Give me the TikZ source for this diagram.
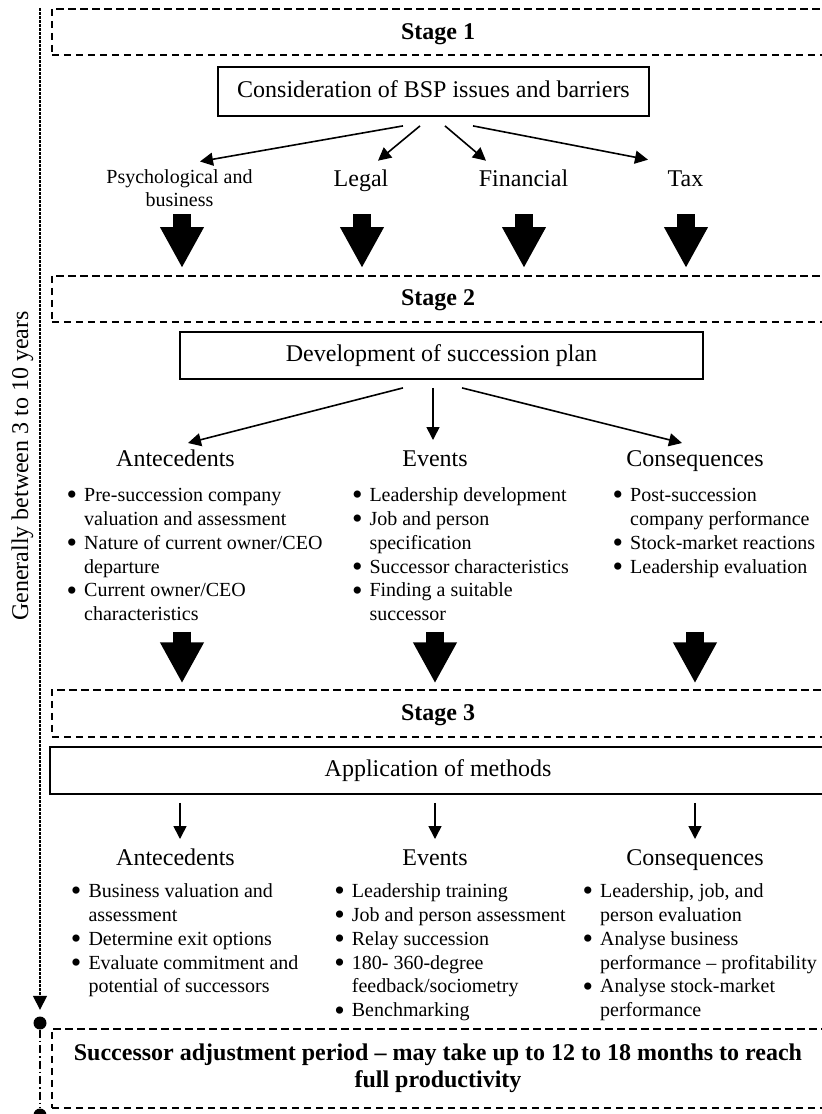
\documentclass[tikz,border=0pt]{standalone}
\usepackage{fontspec}
\usepackage{graphicx}
\setmainfont{Liberation Serif}
\usetikzlibrary{arrows.meta,calc}
\newcommand\bul{\leavevmode\llap{\raisebox{-3.2pt}{\scalebox{1.5}{\textbullet}}\hspace{7pt}}}
\begin{document}
\begin{tikzpicture}[x=1pt,y=-1pt,
  solidbox/.style={draw, line width=1.8pt, inner sep=0pt, font=\fontsize{24}{28}\selectfont, text height=16pt, text depth=5pt},
  stagebox/.style={draw, line width=1.5pt, dash pattern=on 7.5pt off 4.5pt, inner sep=0pt},
  stagelabel/.style={font=\fontsize{24}{27}\selectfont\bfseries, inner sep=0pt, anchor=base},
  heading/.style={font=\fontsize{24}{28}\selectfont, inner sep=0pt, anchor=base},
  listnode/.style={font=\fontsize{20}{23.8}\selectfont, inner sep=0pt, anchor=base west},
  arr/.style={line width=1.6pt, -{Triangle[length=13pt,width=13pt]}},
  blockarrow/.style={line width=18pt, -{Triangle[length=41pt,width=41pt]}},
  timeline/.style={line width=1.6pt, dash pattern=on 2.5pt off 1.5pt},
  tdot/.style={circle, fill, inner sep=0pt, minimum size=13pt},
]
\clip (0,0) rectangle (822,1114);

% ---------- Stage 1
\node[stagebox, anchor=north west, minimum width=775pt, minimum height=46pt] (s1) at (51,8) {};
\node[stagelabel] (s1t) at (438,39.5) {Stage 1};
\node[solidbox, minimum width=431pt, minimum height=49pt] (c1) at (433.5,91.5) {Consideration of BSP issues and barriers};

\node[font=\fontsize{20}{23.2}\selectfont, inner sep=0pt, anchor=base] (psych) at (179.5,183.5)
  {\parbox[t]{160pt}{\centering Psychological and\\business}};
\node[heading] (legal) at (361,186.7) {Legal};
\node[heading] (fin) at (523.5,186.7) {Financial};
\node[heading] (tax) at (685.5,186.7) {Tax};

\draw[arr] ([xshift=-30.5pt,yshift=-9pt]c1.south) -- ($(psych.base)+(20.5,-22)$);
\draw[arr] ([xshift=-13.5pt,yshift=-9pt]c1.south) -- ($(legal.base)+(17,-26)$);
\draw[arr] ([xshift=11.5pt,yshift=-9pt]c1.south) -- ($(fin.base)+(-37.5,-26)$);
\draw[arr] ([xshift=39.5pt,yshift=-9pt]c1.south) -- ($(tax.base)+(-37.5,-27)$);

% ---------- Stage 2
\node[stagebox, anchor=north west, minimum width=775pt, minimum height=46pt] (s2) at (51,275) {};
\node[stagelabel] (s2t) at (438,305) {Stage 2};

\draw[blockarrow] ($(psych.base)+(2.5,30.5)$) -- ($(psych.base |- s2.north)+(2.5,-7)$);
\draw[blockarrow] ($(legal.base)+(1,27.3)$) -- ($(legal.base |- s2.north)+(1,-7)$);
\draw[blockarrow] ($(fin.base)+(0.5,27.3)$) -- ($(fin.base |- s2.north)+(0.5,-7)$);
\draw[blockarrow] ($(tax.base)+(0.5,27.3)$) -- ($(tax.base |- s2.north)+(0.5,-7)$);

\node[solidbox, minimum width=523pt, minimum height=47pt] (dev) at (441.5,355.5) {Development of succession plan};

\node[heading] (a2h) at (175.5,466.5) {Antecedents};
\node[heading] (e2h) at (435,466.5) {Events};
\node[heading] (c2h) at (695,466.5) {Consequences};

\draw[arr] ([xshift=-38.5pt,yshift=-8pt]dev.south) -- ($(a2h.base)+(12.5,-23.5)$);
\draw[arr] ([xshift=-8.5pt,yshift=-8pt]dev.south) -- ($(e2h.base)+(-2,-26.5)$);
\draw[arr] ([xshift=20.5pt,yshift=-8pt]dev.south) -- ($(c2h.base)+(-13,-23.5)$);

\node[listnode] (a2l) at (84,501.7) {\parbox[t]{245pt}{\raggedright
  \bul Pre-succession company\\ valuation and assessment\\
  \bul Nature of current owner/CEO\\ departure\\
  \bul Current owner/CEO\\ characteristics}};
\node[listnode] (e2l) at (369.3,501.7) {\parbox[t]{205pt}{\raggedright
  \bul Leadership development\\
  \bul Job and person\\ specification\\
  \bul Successor characteristics\\
  \bul Finding a suitable\\ successor}};
\node[listnode] (c2l) at (630,501.7) {\parbox[t]{190pt}{\raggedright
  \bul Post-succession\\ company performance\\
  \bul Stock-market reactions\\
  \bul Leadership evaluation}};

% ---------- Stage 3
\node[stagebox, anchor=north west, minimum width=775pt, minimum height=47pt] (s3) at (51,689) {};
\node[stagelabel] (s3t) at (438,720.7) {Stage 3};

\draw[blockarrow] ($(a2l.south -| a2h.base)+(6.5,10.5)$) -- ($(a2h.base |- s3.north)+(6.5,-5.7)$);
\draw[blockarrow] ($(e2l.south -| e2h.base)+(0,10.5)$) -- ($(e2h.base |- s3.north)+(0,-5.7)$);
\draw[blockarrow] ($(e2l.south -| c2h.base)+(0,10.5)$) -- ($(c2h.base |- s3.north)+(0,-5.7)$);

\node[solidbox, minimum width=776pt, minimum height=47pt] (app) at (438,770.5) {Application of methods};

\node[heading] (a3h) at (175.5,865) {Antecedents};
\node[heading] (e3h) at (435,865) {Events};
\node[heading] (c3h) at (695,865) {Consequences};

\draw[arr] ($(app.south -| a3h.base)+(4.5,8)$) -- ($(a3h.base)+(4.5,-26)$);
\draw[arr] ($(app.south -| e3h.base)+(0,8)$) -- ($(e3h.base)+(0,-26)$);
\draw[arr] ($(app.south -| c3h.base)+(0,8)$) -- ($(c3h.base)+(0,-26)$);

\node[listnode, font=\fontsize{20}{23.9}\selectfont] (a3l) at (88.3,897.3) {\parbox[t]{220pt}{\raggedright
  \bul Business valuation and\\ assessment\\
  \bul Determine exit options\\
  \bul Evaluate commitment and\\ potential of successors}};
\node[listnode, font=\fontsize{20}{23.9}\selectfont] (e3l) at (351.7,897.3) {\parbox[t]{218pt}{\raggedright
  \bul Leadership training\\
  \bul Job and person assessment\\
  \bul Relay succession\\
  \bul 180- 360-degree\\ feedback/sociometry\\
  \bul Benchmarking}};
\node[listnode, font=\fontsize{20}{23.9}\selectfont] (c3l) at (600,897.3) {\parbox[t]{222pt}{\raggedright
  \bul Leadership, job, and\\ person evaluation\\
  \bul Analyse business\\ performance – profitability\\
  \bul Analyse stock-market\\ performance}};

% ---------- Adjustment period
\node[stagebox, anchor=north west, minimum width=775pt, minimum height=79pt] (s4) at (51,1028) {};
\node[stagelabel] (s4t) at (438,1060) {\parbox[t]{740pt}{\centering\baselineskip=27pt
  Successor adjustment period – may take up to 12 to 18 months to reach\\ full productivity}};

% ---------- Timeline
\coordinate (ttop) at (40,8);
\node[tdot] (t1) at (40,1023) {};
\node[tdot] (t2) at (40,1115) {};
\draw[timeline, -{Triangle[length=14pt,width=14pt]}] (ttop) -- ($(t1.north)+(0,-6.5)$);
\draw[line width=1.6pt, dash pattern=on 8pt off 3pt on 1.5pt off 3pt] (t1) -- (t2);
\node[rotate=90, anchor=base, font=\fontsize{24}{28}\selectfont, inner sep=0pt] (span) at (28,466) {Generally between 3 to 10 years};
\end{tikzpicture}
\end{document}
